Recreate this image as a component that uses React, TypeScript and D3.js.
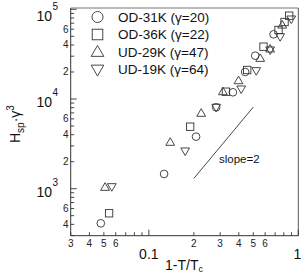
import React from "react";
import * as d3 from "d3";

const W = 302;
const H = 274;

const seriesNames = ["OD-31K (γ=20)", "OD-36K (γ=22)", "UD-29K (γ=47)", "UD-19K (γ=64)"];
const seriesShapes = ["circle", "square", "triUp", "triDown"];

const od31X = [0.0477, 0.1265, 0.207, 0.282, 0.365, 0.441, 0.515, 0.683];
const od31Y = [411, 1459, 3800, 8080, 11880, 20000, 30400, 52600];

const od36X = [0.0542, 0.189, 0.328, 0.455, 0.585, 0.737, 0.809, 0.869];
const od36Y = [532, 4910, 12060, 21050, 38300, 58800, 72200, 84900];

const ud29X = [0.0509, 0.139, 0.224, 0.313, 0.398, 0.556, 0.648, 0.78];
const ud29Y = [1036, 3290, 6930, 12060, 16000, 28400, 36100, 66800];

const ud19X = [0.0565, 0.175, 0.282, 0.415, 0.523, 0.648, 0.756, 0.897];
const ud19Y = [1052, 2630, 8080, 12920, 20680, 35200, 49500, 77900];

const seriesX = [od31X, od36X, ud29X, ud19X];
const seriesY = [od31Y, od36Y, ud29Y, ud19Y];

const slopeX = [0.2, 0.5];
const slopeY = [1300, 8125];

const xMinorLabels = [0.03, 0.04, 0.05, 0.06, 0.2, 0.3, 0.4, 0.5, 0.6];
const xMajorTicks = [0.1, 1];
const xMajorLabels = ["0.1", "1"];
const yMinorLabelMult = [2, 4, 6];
const yMajorExp = [3, 4, 5];

const FONT = "'Liberation Sans', Arial, Helvetica, sans-serif";

function Marker({ shape, x, y, s }: { shape: string; x: number; y: number; s: number }) {
  const st = { fill: "none", stroke: "#333", strokeWidth: 0.9 };
  if (shape === "circle") return <circle cx={x} cy={y} r={s * 0.48} {...st} />;
  if (shape === "square")
    return <rect x={x - s * 0.46} y={y - s * 0.46} width={s * 0.92} height={s * 0.92} {...st} />;
  const h = s * 0.95;
  const hw = s * 0.55;
  if (shape === "triUp")
    return <path d={`M${x},${y - h * 0.6}L${x + hw},${y + h * 0.4}L${x - hw},${y + h * 0.4}Z`} {...st} />;
  return <path d={`M${x},${y + h * 0.6}L${x + hw},${y - h * 0.4}L${x - hw},${y - h * 0.4}Z`} {...st} />;
}

export default function App() {
  const left = 70.7;
  const right = 298.3;
  const top = 8;
  const bottom = 235.7;
  const x = d3.scaleLog().domain([0.03, 1]).range([left, right]);
  const y = d3.scaleLog().domain([299, 103400]).range([bottom, top]);

  const xTicks: number[] = [];
  for (let v = 3; v <= 9; v++) xTicks.push(v / 100);
  for (let v = 1; v <= 10; v++) xTicks.push(v / 10);
  const yTicks: number[] = [];
  for (let v = 3; v <= 9; v++) yTicks.push(v * 100);
  for (let v = 1; v <= 9; v++) yTicks.push(v * 1000);
  for (let v = 1; v <= 10; v++) yTicks.push(v * 10000);

  const isMajorX = (v: number) => xMajorTicks.some((m) => Math.abs(m - v) < 1e-9);
  const isMajorY = (v: number) => yMajorExp.some((e) => Math.abs(Math.pow(10, e) - v) < 1e-6);

  const legendY = [17, 34.5, 52, 69.5];

  return (
    <svg
      width={W}
      height={H}
      style={{ position: "absolute", left: 0, top: 0, background: "#fff" }}
      fontFamily={FONT}
    >
      <rect x={0} y={0} width={W} height={H} fill="#fff" />
      {/* frame */}
      <line x1={left} x2={right} y1={top} y2={top} stroke="#777" strokeWidth={1} />
      <line x1={right} x2={right} y1={top} y2={bottom} stroke="#555" strokeWidth={1} />
      <line x1={left} x2={left} y1={top} y2={bottom} stroke="#333" strokeWidth={1} />
      <line x1={left} x2={right} y1={bottom} y2={bottom} stroke="#333" strokeWidth={1} />

      {/* x ticks */}
      {xTicks.map((v, i) => (
        <line
          key={"xt" + i}
          x1={x(v)}
          x2={x(v)}
          y1={bottom}
          y2={bottom - (isMajorX(v) ? 6 : 3.5)}
          stroke="#333"
          strokeWidth={0.9}
        />
      ))}
      {xMinorLabels.map((v, i) => (
        <text key={"xl" + i} x={x(v)} y={247} fontSize={10} textAnchor="middle" fill="#222">
          {String(Math.round(v * (v < 0.1 ? 100 : 10)))}
        </text>
      ))}
      {xMajorTicks.map((v, i) => (
        <text key={"xm" + i} x={x(v) - (v === 1 ? 1 : 0)} y={258.5} fontSize={14} textAnchor="middle" fill="#111">
          {xMajorLabels[i]}
        </text>
      ))}
      <text x={165} y={270} fontSize={14} fill="#111">
        1-T/T<tspan fontSize={9} dy={2}>c</tspan>
      </text>

      {/* y ticks */}
      {yTicks.map((v, i) => (
        <line
          key={"yt" + i}
          x1={left}
          x2={left + (isMajorY(v) ? 6 : 3.5)}
          y1={y(v)}
          y2={y(v)}
          stroke="#333"
          strokeWidth={0.9}
        />
      ))}
      {yTicks
        .filter((v) => {
          const e = Math.floor(Math.log10(v) + 1e-9);
          const m = Math.round(v / Math.pow(10, e));
          return yMinorLabelMult.includes(m);
        })
        .map((v, i) => {
          const e = Math.floor(Math.log10(v) + 1e-9);
          const m = Math.round(v / Math.pow(10, e));
          return (
            <text key={"yl" + i} x={68.5} y={y(v) + 3.5} fontSize={10} textAnchor="end" fill="#222">
              {m}
            </text>
          );
        })}
      {yMajorExp.map((e, i) => {
        const ty = Math.max(y(Math.pow(10, e)), 13);
        return (
          <g key={"ym" + i}>
            <text x={52} y={ty + 8} fontSize={14} textAnchor="end" fill="#111">
              10
            </text>
            <text x={52.5} y={ty - 3} fontSize={10} fill="#111">
              {e}
            </text>
          </g>
        );
      })}
      <text transform={`translate(20,143) rotate(-90)`} fontSize={14} fill="#111">
        H<tspan fontSize={10} dy={4}>sp</tspan>
        <tspan dy={-4}>·γ</tspan>
        <tspan fontSize={10} dy={-6}>3</tspan>
      </text>

      {/* slope line */}
      <line x1={x(slopeX[0])} y1={y(slopeY[0])} x2={x(slopeX[1])} y2={y(slopeY[1])} stroke="#333" strokeWidth={0.9} />
      <text x={219} y={162.5} fontSize={11.5} fill="#111">
        slope=2
      </text>

      {/* data */}
      {seriesX.map((xs, si) =>
        xs.map((xv, j) => (
          <Marker key={`p${si}-${j}`} shape={seriesShapes[si]} x={x(xv)} y={y(seriesY[si][j])} s={8} />
        ))
      )}

      {/* legend */}
      {seriesNames.map((n, i) => (
        <g key={"lg" + i}>
          <Marker shape={seriesShapes[i]} x={97.5} y={legendY[i]} s={11.5} />
          <text x={118} y={legendY[i] + 4.8} fontSize={13.5} fill="#111">
            {n}
          </text>
        </g>
      ))}
    </svg>
  );
}
